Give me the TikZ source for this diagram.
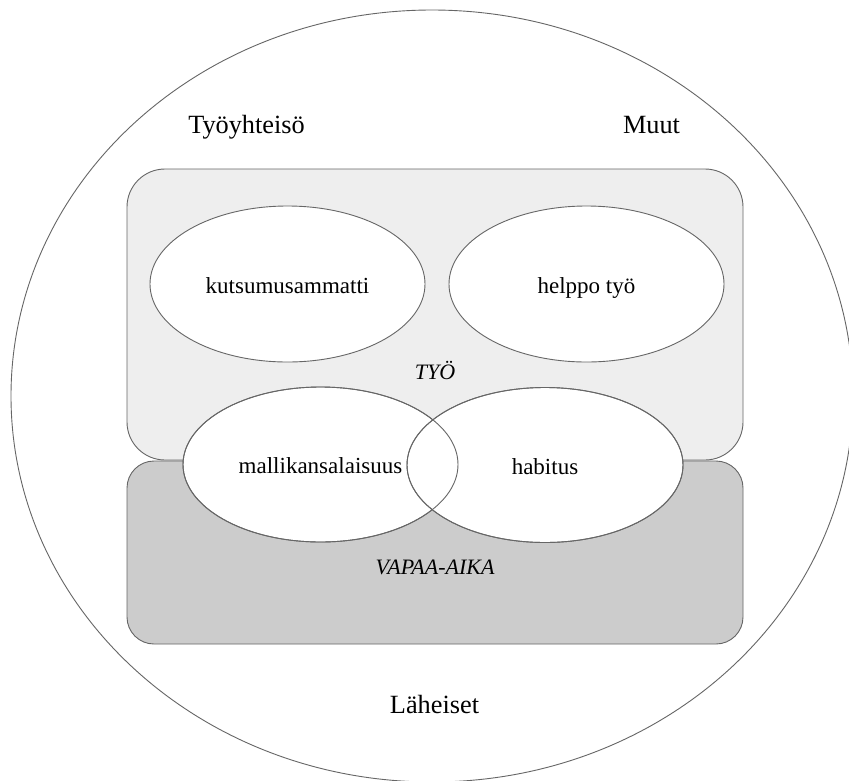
\documentclass[tikz,border=0pt]{standalone}
\usepackage{fontspec}
\setmainfont{Liberation Serif}
\usetikzlibrary{shapes.geometric}
\definecolor{lightbox}{HTML}{EEEEEE}
\definecolor{darkbox}{HTML}{CCCCCC}
\definecolor{edge}{HTML}{666666}
\tikzset{
  outline/.style={draw=edge, line width=0.9pt},
  bubble/.style={outline, ellipse, fill=white, inner sep=0pt, text height=18pt, text depth=0pt, minimum width=275pt, minimum height=156pt, font=\fontsize{23}{27}\selectfont},
  bigtext/.style={anchor=base, inner sep=0pt, font=\fontsize{26.3}{30}\selectfont},
  areatext/.style={anchor=base, inner sep=0pt, font=\fontsize{22}{26}\selectfont\itshape},
  area/.style={outline, rectangle, inner sep=0pt, minimum width=616pt}
}
\begin{document}
\begin{tikzpicture}[x=1pt,y=-1pt]
\useasboundingbox (0,0) rectangle (849,780);
\fill[white] (0,0) rectangle (849,780);
\begin{scope}
\clip (0,0) rectangle (849,780);
\node[outline, ellipse, inner sep=0pt, minimum width=842pt, minimum height=772pt] (world) at (432,396) {};
\end{scope}
\node[bigtext] (tyoyhteiso) at (246.5,133) {Työyhteisö};
\node[bigtext] (muut) at (651.5,133) {Muut};
\node[bigtext] (laheiset) at (434.5,713) {Läheiset};
\node[area, fill=lightbox, rounded corners=38pt, minimum height=291pt] (tyo) at (435,314.5) {};
\node[area, fill=darkbox, rounded corners=27pt, minimum height=183pt] (vapaa) at (435,552.5) {};
\node[areatext] (tyolabel) at (435,379) {TYÖ};
\node[areatext] (vapaalabel) at (435,574) {VAPAA-AIKA};
\node[bubble] (kutsu) at (287.5,284) {kutsumusammatti};
\node[bubble] (helppo) at (586.5,284) {helppo työ};
\node[bubble, minimum height=155pt] (malli) at (320.5,464.5) {};
\node[bubble, minimum height=155pt, minimum width=276pt] (habitus) at (545,465) {};
\node[bubble, fill=none, minimum height=155pt] (mallio) at (malli) {mallikansalaisuus};
\node[bubble, fill=none, minimum height=155pt, minimum width=276pt] (habituso) at (habitus) {habitus};
\end{tikzpicture}
\end{document}
